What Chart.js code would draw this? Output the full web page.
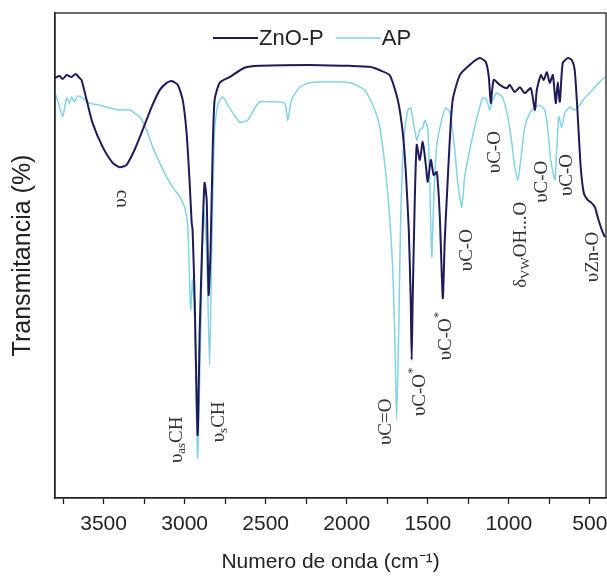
<!DOCTYPE html>
<html>
<head>
<meta charset="utf-8">
<script src="https://cdn.jsdelivr.net/npm/chart.js@4.4.1/dist/chart.umd.min.js"></script>
<style>
  html, body { margin: 0; padding: 0; background: #fff; }
  canvas { display: block; }
</style>
</head>
<body>
<canvas id="ftir" width="607" height="579"></canvas>
<script>
// Espectro FTIR: numero de onda (cm-1) y transmitancia (%)
const znoWave = [3800, 3772, 3753, 3728, 3698, 3673, 3648, 3636, 3605, 3568, 3506, 3444, 3401, 3358, 3309, 3259, 3204, 3154, 3111, 3080,
  3043, 3012, 2988, 2969, 2957, 2951, 2938, 2920, 2907, 2889, 2877, 2864, 2852, 2840, 2827, 2815, 2784, 2722, 2630, 2537,
  2228, 1981, 1858, 1796, 1735, 1685, 1654, 1636, 1617, 1605, 1599, 1593, 1580, 1568, 1549, 1531, 1512, 1500, 1481, 1463,
  1444, 1426, 1407, 1395, 1383, 1364, 1346, 1302, 1241, 1179, 1142, 1123, 1111, 1093, 1056, 1012, 994, 963, 932, 901,
  864, 839, 827, 802, 784, 765, 747, 728, 710, 698, 685, 667, 636, 611, 593, 574, 556, 537, 512, 494, 469, 451, 426, 407];
const znoTrans = [86.6, 87.0, 86.4, 87.2, 86.8, 87.4, 86.6, 86.2, 82.1, 77.3, 72.4, 69.1, 68.2, 68.7, 71.8, 75.9, 80.6, 84.1, 85.6, 86.0,
  85.2, 82.1, 75.3, 65.0, 56.9, 55.3, 40.8, 13.0, 34.6, 55.3, 65.0, 61.4, 41.9, 51.1, 71.8, 82.1, 85.6, 86.8, 88.7, 89.1,
  89.3, 89.1, 88.9, 88.2, 87.2, 82.1, 75.3, 67.6, 55.3, 40.8, 28.5, 40.8, 61.4, 72.8, 69.7, 73.4, 68.7, 65.2, 69.7, 66.6,
  67.2, 58.4, 41.2, 53.2, 61.4, 73.8, 82.1, 87.2, 89.3, 90.7, 89.9, 86.8, 81.4, 86.2, 85.2, 84.5, 85.2, 83.7, 84.7, 83.5,
  84.5, 80.0, 84.1, 87.2, 86.2, 87.8, 85.6, 87.2, 81.4, 85.6, 81.7, 89.7, 90.7, 90.3, 88.2, 78.6, 68.2, 62.9, 61.4, 61.0, 60.0, 57.9, 55.3, 53.8];

const apWave = [3800, 3784, 3753, 3728, 3710, 3698, 3679, 3660, 3630, 3586, 3525, 3463, 3401, 3340, 3278, 3235, 3198, 3154, 3111, 3074,
  3031, 3000, 2981, 2963, 2951, 2938, 2920, 2901, 2883, 2864, 2846, 2833, 2815, 2796, 2765, 2722, 2660, 2611, 2568, 2537,
  2475, 2383, 2364, 2340, 2290, 2228, 2105, 1981, 1889, 1827, 1796, 1753, 1722, 1704, 1692, 1679, 1667, 1648, 1623, 1605,
  1586, 1568, 1549, 1531, 1518, 1500, 1488, 1475, 1463, 1444, 1414, 1389, 1364, 1333, 1315, 1290, 1272, 1241, 1210, 1179,
  1160, 1136, 1117, 1099, 1074, 1037, 1006, 981, 963, 944, 926, 901, 870, 839, 809, 778, 759, 741, 716, 704,
  691, 673, 654, 623, 593, 562, 531, 500, 469, 438, 407];
const apTrans = [83.5, 82.1, 78.6, 82.5, 81.4, 82.7, 81.7, 82.9, 82.5, 81.4, 81.0, 80.4, 80.0, 80.0, 78.6, 75.9, 72.4, 69.1, 66.2, 64.1,
  62.1, 60.0, 56.3, 38.8, 45.0, 36.7, 8.2, 34.6, 59.4, 51.1, 27.4, 51.1, 75.9, 81.0, 82.7, 80.4, 77.5, 77.9, 80.4, 81.7,
  81.7, 81.4, 77.9, 82.1, 84.7, 85.6, 85.8, 85.6, 84.1, 80.0, 76.5, 65.0, 51.1, 34.6, 16.1, 34.6, 57.3, 73.8, 80.0, 80.4,
  76.9, 73.8, 75.9, 76.3, 77.9, 76.3, 65.6, 49.7, 61.4, 72.8, 77.9, 80.4, 79.6, 71.8, 65.0, 60.0, 66.2, 71.8, 76.5, 80.6,
  82.5, 82.1, 80.0, 82.1, 83.5, 82.5, 78.6, 73.2, 68.2, 65.6, 69.7, 76.5, 79.4, 80.6, 81.0, 80.0, 75.9, 69.7, 65.6, 71.8,
  78.6, 76.5, 79.4, 80.6, 80.0, 81.0, 82.5, 83.5, 84.7, 85.8, 86.8];

const xTickLabels = [3500, 3000, 2500, 2000, 1500, 1000, 500];

// etiquetas de bandas (numero de onda, transmitancia del centro del texto)
const bandLabels = [
  { wave: 3395, trans: 61.7, parts: [['υ'], ['ɔ']] },
  { wave: 3049, trans: 12.0, parts: [['υ'], ['as', 'sub'], ['CH']] },
  { wave: 2790, trans: 15.7, parts: [['υ'], ['s', 'sub'], ['CH']] },
  { wave: 1759, trans: 15.7, parts: [['υC=O']] },
  { wave: 1549, trans: 21.9, parts: [['υC-O'], ['*', 'sup']] },
  { wave: 1389, trans: 33.4, parts: [['υC-O'], ['*', 'sup']] },
  { wave: 1259, trans: 51.1, parts: [['υC-O']] },
  { wave: 1086, trans: 71.3, parts: [['υC-O']] },
  { wave: 926, trans: 52.2, parts: [['δ'], ['VW', 'sub'], ['OH...O']] },
  { wave: 796, trans: 65.2, parts: [['υC-O']] },
  { wave: 642, trans: 66.6, parts: [['υC-O']] },
  { wave: 481, trans: 49.7, parts: [['υZn-O']] }
];

const sans = '"Liberation Sans", Arial, sans-serif';
const ink = '#222';

const framePlugin = {
  id: 'frame',
  afterDatasetsDraw(chart) {
    const { ctx, chartArea: a } = chart;
    ctx.save();
    ctx.strokeStyle = ink;
    ctx.lineWidth = 1.3;
    ctx.strokeRect(a.left, a.top, a.right - a.left, a.bottom - a.top);
    ctx.restore();
  }
};

const legendPlugin = {
  id: 'inlineLegend',
  afterDatasetsDraw(chart) {
    const ctx = chart.ctx;
    const y = 38;
    let x = 213;
    ctx.save();
    ctx.font = '22px ' + sans;
    ctx.textBaseline = 'middle';
    ctx.fillStyle = ink;
    chart.data.datasets.forEach(ds => {
      ctx.strokeStyle = ds.borderColor;
      ctx.lineWidth = ds.borderWidth;
      ctx.beginPath();
      ctx.moveTo(x, y);
      ctx.lineTo(x + 45, y);
      ctx.stroke();
      ctx.fillText(ds.label, x + 46, y + 1);
      x += 46 + ctx.measureText(ds.label).width + 12;
    });
    ctx.restore();
  }
};

const bandPlugin = {
  id: 'bandLabels',
  afterDatasetsDraw(chart) {
    const { ctx, scales: { x, y } } = chart;
    const fontFor = k => (k ? 13 : 19) + 'px "Liberation Serif", "Times New Roman", serif';
    bandLabels.forEach(lab => {
      ctx.save();
      ctx.translate(x.getPixelForValue(lab.wave), y.getPixelForValue(lab.trans));
      ctx.rotate(-Math.PI / 2);
      let total = 0;
      lab.parts.forEach(([t, k]) => { ctx.font = fontFor(k); total += ctx.measureText(t).width; });
      let cx = -total / 2;
      ctx.textBaseline = 'middle';
      ctx.fillStyle = '#333';
      lab.parts.forEach(([t, k]) => {
        ctx.font = fontFor(k);
        const dy = k === 'sub' ? 5 : (k === 'sup' ? -7 : 0);
        ctx.fillText(t, cx, dy);
        cx += ctx.measureText(t).width;
      });
      ctx.restore();
    });
  }
};

new Chart(document.getElementById('ftir'), {
  type: 'line',
  data: {
    datasets: [{
      label: 'ZnO-P',
      data: znoWave.map((w, i) => ({ x: w, y: znoTrans[i] })),
      borderColor: '#1e1b58',
      borderWidth: 2,
      pointRadius: 0,
      tension: 0.2,
      order: 0
    }, {
      label: 'AP',
      data: apWave.map((w, i) => ({ x: w, y: apTrans[i] })),
      borderColor: '#84d2e6',
      borderWidth: 1.5,
      pointRadius: 0,
      tension: 0.2,
      order: 1
    }]
  },
  options: {
    responsive: false,
    animation: false,
    devicePixelRatio: 1,
    layout: { padding: { top: 13, right: 1, left: 0, bottom: 0 } },
    plugins: { legend: { display: false }, tooltip: { enabled: false } },
    scales: {
      x: {
        type: 'linear',
        reverse: true,
        min: 400,
        max: 3800,
        afterBuildTicks: s => { s.ticks = s.ticks.filter(t => t.value % 250 === 0); },
        afterFit: s => { s.height = 81; s.paddingLeft = 0; s.paddingRight = 0; },
        ticks: {
          stepSize: 250,
          includeBounds: false,
          autoSkip: false,
          maxRotation: 0,
          padding: 8,
          color: ink,
          font: { family: sans, size: 21 },
          callback: v => (xTickLabels.includes(v) ? v : '')
        },
        grid: { drawOnChartArea: false, tickLength: 6, color: ink, tickWidth: 1.3 },
        border: { color: ink, width: 1.3 },
        title: {
          display: true,
          text: 'Numero de onda (cm⁻¹)',
          color: ink,
          font: { family: sans, size: 21 },
          padding: { top: 0, bottom: 4 }
        }
      },
      y: {
        min: 0,
        max: 100,
        afterFit: s => { s.width = 55; },
        ticks: { display: false },
        grid: { display: false },
        border: { color: ink, width: 1.3 },
        title: {
          display: true,
          text: 'Transmitancia (%)',
          color: ink,
          font: { family: sans, size: 25 },
          padding: { top: 8, bottom: 0 }
        }
      }
    }
  },
  plugins: [framePlugin, legendPlugin, bandPlugin]
});
</script>
</body>
</html>
